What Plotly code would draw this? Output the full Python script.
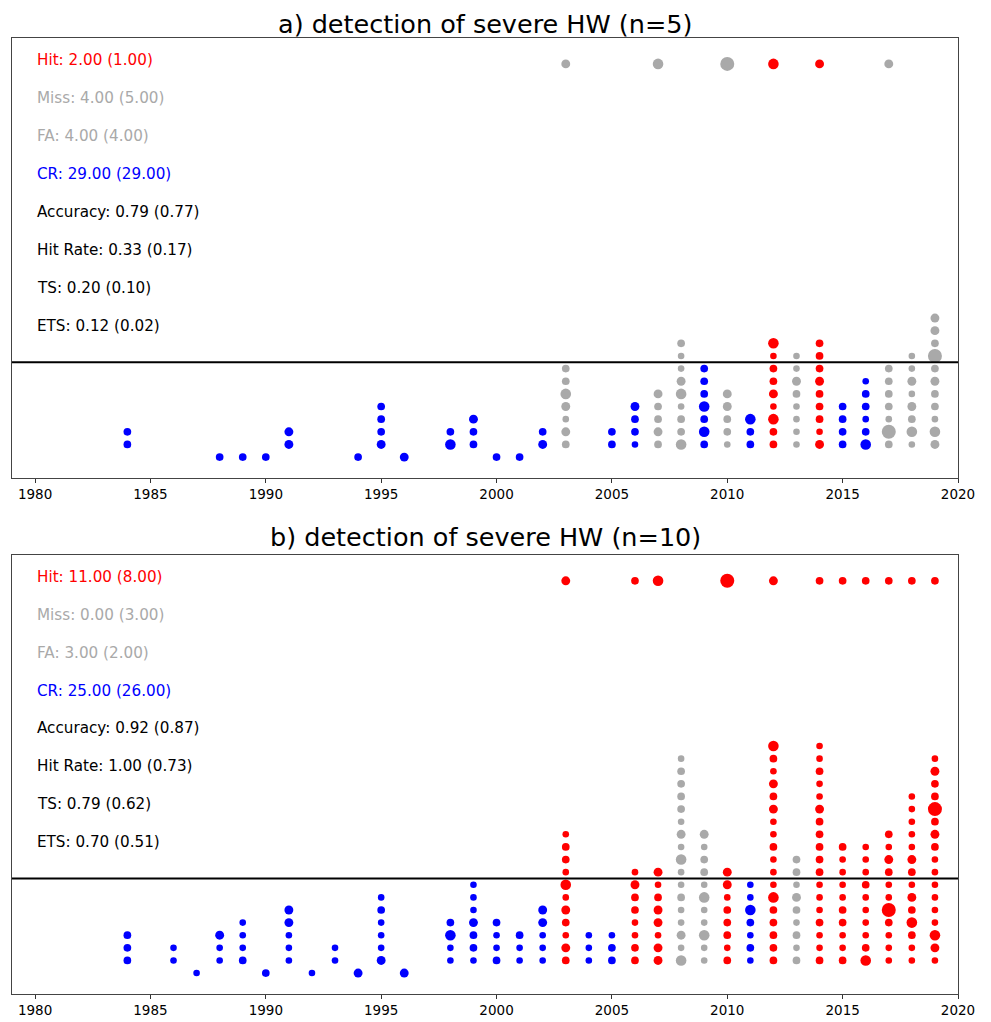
import plotly.graph_objects as go

# ---------------- data ----------------
CAT_COLOR = {"H": "#FF0000", "M": "#A9A9A9", "F": "#A9A9A9", "C": "#0000FF"}
MAG_SIZE = {1: 6.6, 2: 7.7, 3: 8.9, 4: 10.6, 5: 14.0}

# panel a) n=5
a_years = [1984, 1988, 1989, 1990, 1991, 1994, 1995, 1996, 1998, 1999, 2000, 2001, 2002,
           2003, 2005, 2006, 2007, 2008, 2009, 2010, 2011, 2012, 2013, 2014, 2015, 2016,
           2017, 2018, 2019]
a_cats = ["C", "C", "C", "C", "C", "C", "C", "C", "C", "C", "C", "C", "C",
          "M", "C", "C", "M", "F", "C", "M", "C", "H", "F", "H", "C", "C",
          "M", "F", "F"]
a_base = [1, 0, 0, 0, 1, 0, 1, 0, 1, 1, 0, 0, 1,
          1, 1, 1, 1, 1, 1, 1, 1, 1, 1, 1, 1, 1,
          1, 1, 1]
a_mags = [
    [2, 2], [2], [2], [2], [3, 3], [2], [3, 2, 2, 2], [3], [4, 2], [2, 2, 3], [2], [2], [3, 2],
    [2, 3, 1, 3, 4, 2, 2], [2, 2], [1, 2, 2, 3], [2, 3, 2, 2, 3],
    [4, 2, 2, 1, 4, 3, 1, 1, 2], [2, 4, 2, 4, 2, 2, 2], [1, 2, 2, 3, 3], [2, 2, 4],
    [2, 2, 4, 1, 3, 2, 2, 1, 4], [1, 1, 1, 1, 2, 3, 1, 1], [3, 1, 2, 2, 2, 3, 2, 2, 2],
    [2, 2, 2, 2], [4, 2, 1, 2, 2, 1], [2, 5, 1, 2, 2, 2, 2], [1, 4, 2, 3, 1, 3, 1, 1],
    [3, 4, 1, 2, 2, 3, 2, 5, 2, 3, 3],
]
a_obs_years = [2003, 2007, 2010, 2012, 2014, 2017]
a_obs_cats = ["M", "M", "M", "H", "H", "M"]
a_obs_mags = [3, 4, 5, 4, 3, 3]
a_stat_text = ["Hit: 2.00 (1.00)", "Miss: 4.00 (5.00)", "FA: 4.00 (4.00)", "CR: 29.00 (29.00)",
               "Accuracy: 0.79 (0.77)", "Hit Rate: 0.33 (0.17)", "TS: 0.20 (0.10)", "ETS: 0.12 (0.02)"]

# panel b) n=10
b_years = [1984, 1986, 1987, 1988, 1989, 1990, 1991, 1992, 1993, 1994, 1995, 1996, 1998,
           1999, 2000, 2001, 2002, 2003, 2004, 2005, 2006, 2007, 2008, 2009, 2010, 2011,
           2012, 2013, 2014, 2015, 2016, 2017, 2018, 2019]
b_cats = ["C", "C", "C", "C", "C", "C", "C", "C", "C", "C", "C", "C", "C",
          "C", "C", "C", "C", "H", "C", "C", "H", "H", "F", "F", "H", "C",
          "H", "F", "H", "H", "H", "H", "H", "H"]
b_base = [1, 1, 0, 1, 1, 0, 1, 0, 1, 0, 1, 0, 1,
          1, 1, 1, 1, 1, 1, 1, 1, 1, 1, 1, 1, 1,
          1, 1, 1, 1, 1, 1, 1, 1]
b_mags = [
    [2, 2, 2], [1, 1], [1], [1, 1, 3], [2, 1, 1, 1], [2], [1, 1, 1, 3, 3], [1], [1, 1], [3],
    [3, 1, 1, 1, 2, 1], [3], [1, 1, 4, 2], [1, 2, 2, 3, 1, 1, 1], [2, 1, 1, 2], [1, 1, 2],
    [1, 1, 1, 3, 3], [2, 3, 1, 2, 3, 1, 4, 1, 2, 2, 1], [1, 1, 1], [2, 2, 1],
    [2, 2, 1, 1, 2, 2, 3, 1], [3, 3, 1, 3, 3, 2, 1, 3],
    [4, 1, 3, 1, 1, 2, 1, 1, 4, 1, 3, 1, 2, 2, 2, 2, 1],
    [1, 1, 4, 1, 1, 4, 1, 2, 2, 1, 3], [2, 1, 2, 2, 2, 1, 3, 3], [1, 2, 1, 2, 4, 1, 1],
    [2, 2, 2, 2, 2, 4, 1, 1, 1, 2, 1, 1, 3, 2, 3, 1, 2, 4], [2, 1, 2, 1, 2, 3, 1, 2, 2],
    [2, 1, 1, 2, 1, 1, 1, 2, 2, 2, 2, 2, 3, 1, 1, 2, 1, 1], [2, 1, 1, 2, 2, 1, 1, 1, 1, 2],
    [4, 2, 1, 1, 1, 1, 2, 1, 1, 1], [1, 1, 1, 2, 5, 1, 1, 2, 3, 1, 2],
    [1, 1, 2, 4, 2, 3, 1, 2, 3, 1, 1, 1, 1, 1], [1, 3, 4, 1, 1, 1, 1, 1, 1, 2, 3, 2, 5, 2, 2, 3, 1],
]
b_obs_years = [2003, 2006, 2007, 2010, 2012, 2014, 2015, 2016, 2017, 2018, 2019]
b_obs_cats = ["H"] * 11
b_obs_mags = [3, 2, 4, 5, 3, 2, 2, 2, 2, 2, 2]
b_stat_text = ["Hit: 11.00 (8.00)", "Miss: 0.00 (3.00)", "FA: 3.00 (2.00)", "CR: 25.00 (26.00)",
               "Accuracy: 0.92 (0.87)", "Hit Rate: 1.00 (0.73)", "TS: 0.79 (0.62)", "ETS: 0.70 (0.51)"]

stat_cats = ["H", "M", "F", "C", None, None, None, None]
titles = ["a) detection of severe HW (n=5)", "b) detection of severe HW (n=10)"]
threshold_row = 7.5
obs_row = 31.1
xticks = [1980, 1985, 1990, 1995, 2000, 2005, 2010, 2015, 2020]

# ---------------- figure ----------------
# page body has an 8px margin, so the figure starts at (8, 8) on screen
OFF = 8
W, H = 991 - OFF, 1022 - OFF
ML, MR, MT, MB = 12 - OFF, 33, 38 - OFF, 26
plot_h = H - MT - MB
bot_scr = 996
dom_a = [(bot_scr - 479) / plot_h, 1.0]
dom_b = [0.0, (bot_scr - 556) / plot_h]

fig = go.Figure()
FONT = "DejaVu Sans"

panels = [
    (a_years, a_cats, a_base, a_mags, a_obs_years, a_obs_cats, a_obs_mags, a_stat_text, "x", "y"),
    (b_years, b_cats, b_base, b_mags, b_obs_years, b_obs_cats, b_obs_mags, b_stat_text, "x2", "y2"),
]

for (years, cats, base, mags, oyears, ocats, omags, stext, xa, ya) in panels:
    for cat in ["C", "M", "F", "H"]:
        xs, ys, ss = [], [], []
        for yr, c, b, ml in zip(years, cats, base, mags):
            if c != cat:
                continue
            for i, m in enumerate(ml):
                xs.append(yr)
                ys.append(b + i)
                ss.append(MAG_SIZE[m])
        for yr, c, m in zip(oyears, ocats, omags):
            if c != cat:
                continue
            xs.append(yr)
            ys.append(obs_row)
            ss.append(MAG_SIZE[m])
        if xs:
            fig.add_trace(go.Scatter(
                x=xs, y=ys, mode="markers", xaxis=xa, yaxis=ya, showlegend=False,
                opacity=1,
                marker=dict(color=CAT_COLOR[cat], size=ss, opacity=1, line=dict(width=0)),
                hoverinfo="skip"))
    for i, (t, sc) in enumerate(zip(stext, stat_cats)):
        fig.add_annotation(
            x=1980, y=31.4 - 3 * i, xref=xa, yref=ya, text=t, showarrow=False,
            xanchor="left", yanchor="middle",
            font=dict(family=FONT, size=15.2, color=CAT_COLOR[sc] if sc else "black"))
    fig.add_shape(type="line", xref=xa + " domain", yref=ya, x0=0, x1=1,
                  y0=threshold_row, y1=threshold_row, line=dict(color="black", width=2))

axis_common = dict(range=[1979, 2020], tickmode="array", tickvals=xticks,
                   ticks="outside", ticklen=4, tickwidth=1, tickcolor="#333",
                   showline=True, linecolor="#444", linewidth=1.2, mirror=True,
                   showgrid=False, zeroline=False,
                   tickfont=dict(family=FONT, size=13.5, color="black"))
yaxis_common = dict(range=[-1.66, 33.15], showticklabels=False, ticks="",
                    showline=True, linecolor="#444", linewidth=1.2, mirror=True,
                    showgrid=False, zeroline=False)

fig.update_layout(
    width=W, height=H, margin=dict(l=ML, r=MR, t=MT, b=MB),
    paper_bgcolor="white", plot_bgcolor="white",
    xaxis=dict(domain=[0, 1], anchor="y", **axis_common),
    yaxis=dict(domain=dom_a, anchor="x", **yaxis_common),
    xaxis2=dict(domain=[0, 1], anchor="y2", **axis_common),
    yaxis2=dict(domain=dom_b, anchor="x2", **yaxis_common),
)

for t, py in zip(titles, [24, 538]):
    fig.add_annotation(x=0.5, y=(bot_scr - py) / plot_h, xref="paper", yref="paper",
                       text=t, showarrow=False, xanchor="center", yanchor="middle",
                       font=dict(family=FONT, size=25.5, color="black"))

fig.write_html("out.html", config={"displayModeBar": False})
